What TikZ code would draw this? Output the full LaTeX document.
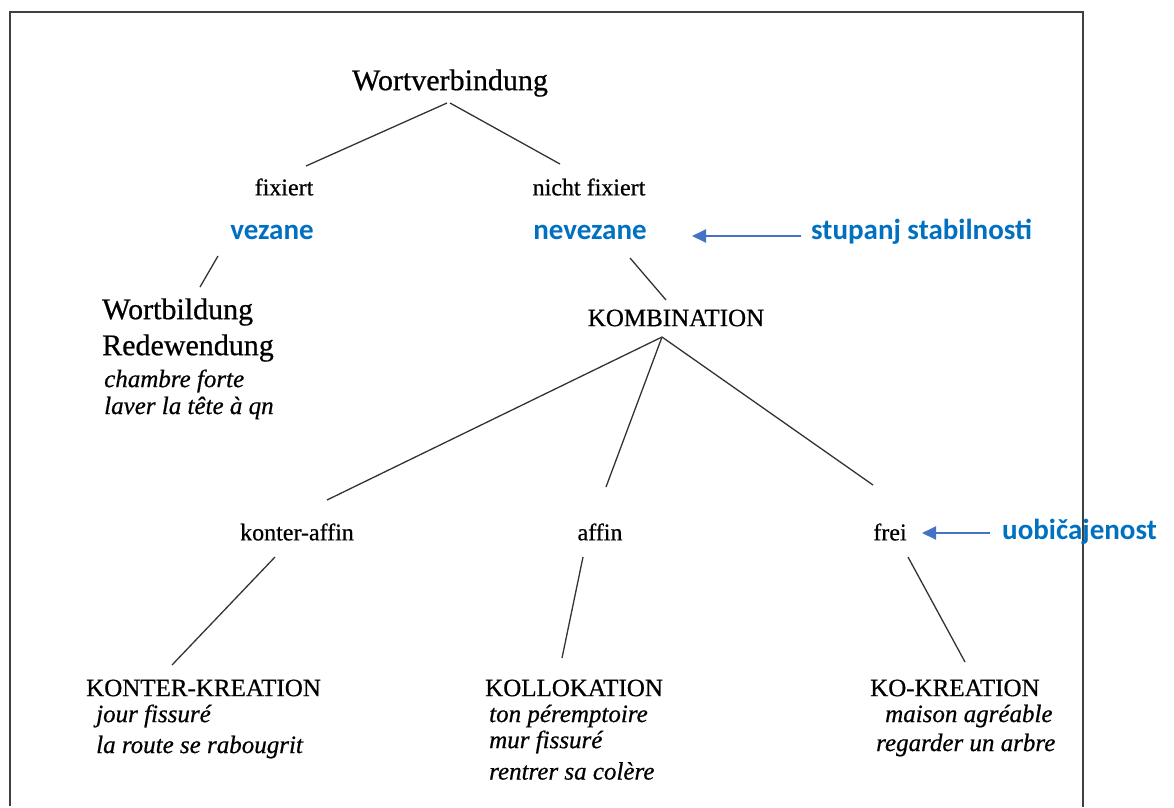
\documentclass[tikz,border=0pt]{standalone}
\usepackage{fontspec}
\setmainfont{Liberation Serif}[FakeBold=0.6]
\newfontfamily\bluefont{Carlito}
\usetikzlibrary{calc,arrows.meta}
\definecolor{labelblue}{RGB}{0,112,192}
\definecolor{arrowblue}{RGB}{68,114,196}
\tikzset{
  big/.style={inner sep=0pt,font=\fontsize{30}{34}\selectfont},
  mid/.style={inner sep=0pt,font=\fontsize{24}{28}\selectfont},
  caps/.style={inner sep=0pt,font=\fontsize{25}{29}\selectfont},
  ex/.style={inner sep=0pt,anchor=west,font=\fontsize{25}{29}\selectfont\itshape},
  blue/.style={inner sep=0pt,text=labelblue,font=\fontsize{29}{33}\selectfont\bluefont\bfseries},
  link/.style={draw=black!80,line width=1.3pt},
  hint/.style={draw=arrowblue,line width=2pt,-{Triangle[length=14pt,width=13pt]}},
  frame/.style={draw=black!75,line width=2pt}
}
\begin{document}
\begin{tikzpicture}[x=1pt,y=-1pt]
\useasboundingbox (0,0) rectangle (1174,807);
% frame
\draw[frame] (10,806) -- (10,12) -- (1083,12) -- (1083,807);
% nodes
\node[big] (root) at (450,83) {Wortverbindung};
\node[mid] (fix) at (284,187) {fixiert};
\node[mid] (nfix) at (589,187) {nicht fixiert};
\node[blue] (vez) at (272,232) {vezane};
\node[blue] (nvez) at (590,232) {nevezane};
\node[blue,anchor=west] (stab) at (811,232) {stupanj stabilnosti};
\node[big,anchor=west] (wb) at (102,312) {Wortbildung};
\node[big,anchor=west] (rw) at (102,348) {Redewendung};
\node[ex] (cf) at (104,381) {chambre forte};
\node[ex] (lt) at (104,408) {laver la tête à qn};
\node[caps] (komb) at (676,318) {KOMBINATION};
\node[mid] (kaff) at (297,532) {konter-affin};
\node[mid] (aff) at (600,532) {affin};
\node[mid] (frei) at (890,532) {frei};
\node[blue,anchor=west] (uob) at (1002,532) {uobičajenost};
\node[caps,anchor=west] (kk) at (86,688) {KONTER-KREATION};
\node[ex] (jf) at (96,716) {jour fissuré};
\node[ex] (rr) at (96,747) {la route se rabougrit};
\node[caps,anchor=west] (koll) at (485,688) {KOLLOKATION};
\node[ex] (tp) at (489,716) {ton péremptoire};
\node[ex] (mf) at (489,742) {mur fissuré};
\node[ex] (rc) at (489,771) {rentrer sa colère};
\node[caps,anchor=west] (kok) at (870,688) {KO-KREATION};
\node[ex] (ma) at (885,716) {maison agréable};
\node[ex] (ra) at (876,745) {regarder un arbre};
% connectors
\draw[link] ($(root)+(-3,20)$) -- ($(fix)+(22,-21)$);
\draw[link] ($(root)+(0,20)$) -- ($(nfix)+(-29,-23)$);
\draw[link] ($(vez)+(-54,24)$) -- ($(wb.west)+(98,-25)$);
\draw[link] ($(nvez)+(40,26)$) -- ($(komb)+(-10,-18)$);
\draw[link] ($(komb)+(-14,19)$) -- ($(kaff)+(30,-32)$);
\draw[link] ($(komb)+(-14,19)$) -- ($(aff)+(6,-45)$);
\draw[link] ($(komb)+(-14,19)$) -- ($(frei)+(-17,-47)$);
\draw[link] ($(kaff)+(-22,25)$) -- ($(kk.west)+(86,-23)$);
\draw[link] ($(aff)+(-17,25)$) -- ($(koll.west)+(77,-30)$);
\draw[link] ($(frei)+(18,25)$) -- ($(kok.west)+(95,-26)$);
% hint arrows
\draw[hint] ($(stab.west)+(-10,4)$) -- ($(nvez)+(102,4)$);
\draw[hint] ($(uob.west)+(-12,1)$) -- ($(frei)+(32,1)$);
\end{tikzpicture}
\end{document}
